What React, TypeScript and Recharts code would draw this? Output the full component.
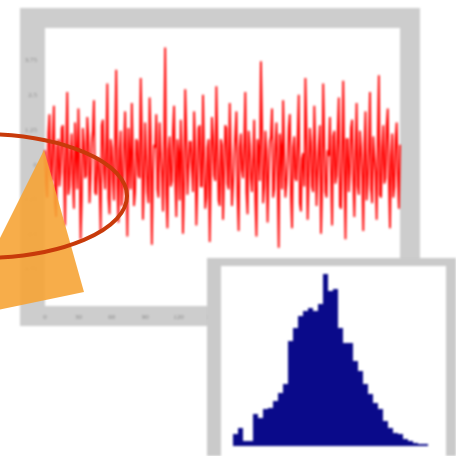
import React from 'react';
import { LineChart, Line, XAxis, YAxis, CartesianGrid, BarChart, Bar } from 'recharts';

const noiseA = [
  0.5, -1.2, 1.8, -0.6, 2.1, -1.9, 0.9, -0.3, 1.4, -2.2,
  2.6, -0.8, 1.1, -1.6, 0.4, 2.0, -2.7, 1.3, -0.5, 1.7,
  -1.4, 0.8, 2.3, -1.1, 0.2, -2.4, 1.6, -0.9, 2.9, -1.8,
  0.6, -1.3, 3.4, -2.1, 1.2, -0.7, 1.9, -2.6, 0.3, 2.2,
  -1.5, 0.9, -0.4, 3.1, -2.0, 1.5, -1.0, 2.4, -2.9, 0.7,
  1.8, -1.2, 0.5, -1.7, 4.2, -2.3, 1.0, -0.6, 2.1, -1.9,
  0.4, 1.6, -2.5, 2.7, -1.1, 0.8, -0.2, 1.9, -2.2, 1.3,
  -0.8, 2.5, -1.6, 0.6, -2.8, 1.7, -0.4, 2.8, -1.3, 0.9,
  -2.0, 1.4, -0.7, 2.2, -1.5, 0.3, 1.9, -2.4, 1.1, -0.5,
  2.6, -1.8, 0.7, -1.0, 1.6, -2.6, 0.5, 3.7, -1.4, 1.2,
  -2.1, 0.8, 2.0, -0.9, 1.5, -3.0, 0.6, 2.3, -1.2, 0.1,
  1.8, -2.3, 1.0, -0.6, 2.5, -1.7, 0.4, 3.1, -2.0, 1.3,
  -0.8, 2.1, -1.5, 0.7, -2.5, 2.9, -1.0, 0.5, 1.7, -2.2,
  1.2, -0.4, 2.4, -1.6, 3.0, -2.7, 0.9, -0.3, 1.6, -1.9,
  2.2, -1.1, 0.6, -2.4, 1.9, -0.7, 2.6, -1.4, 0.3, -2.0,
  3.2, -1.2, 1.4, -0.5, 2.0, -2.3, 1.1, -0.8, 1.5, -1.6,
];
const noiseB = [
  -0.7, 1.1, -0.3, 0.9, -1.4, 0.6, -0.8, 1.3, -0.2, 0.7,
  -1.1, 0.4, -0.6, 1.5, -0.9, 0.3, -1.3, 0.8, -0.4, 1.0,
  -0.5, 1.2, -1.0, 0.2, -0.7, 1.4, -0.3, 0.6, -1.2, 0.9,
  -0.6, 1.1, -0.8, 0.5, -1.5, 0.7, -0.2, 1.3, -0.9, 0.4,
  -1.0, 0.8, -0.5, 1.2, -0.7, 0.3, -1.4, 1.0, -0.4, 0.6,
  -0.9, 1.5, -0.3, 0.7, -1.1, 0.5, -0.8, 1.2, -0.6, 0.9,
  -1.3, 0.4, -0.7, 1.1, -0.2, 0.8, -1.0, 0.6, -0.5, 1.4,
  -0.8, 0.3, -1.2, 0.9, -0.4, 1.0, -0.6, 0.5, -1.5, 0.7,
  -0.3, 1.3, -0.9, 0.4, -0.7, 1.1, -1.1, 0.6, -0.2, 0.8,
  -1.0, 1.2, -0.5, 0.3, -1.3, 0.9, -0.6, 1.5, -0.8, 0.5,
  -0.4, 1.0, -1.2, 0.7, -0.3, 1.1, -0.9, 0.4, -0.7, 1.3,
  -1.1, 0.6, -0.5, 0.9, -1.4, 0.2, -0.8, 1.2, -0.6, 0.8,
  -1.0, 0.5, -0.3, 1.4, -0.9, 0.7, -1.2, 0.3, -0.4, 1.0,
  -0.7, 1.1, -1.5, 0.6, -0.2, 0.9, -1.0, 1.3, -0.6, 0.4,
  -0.8, 1.2, -0.4, 0.7, -1.3, 0.5, -0.9, 1.0, -0.3, 0.8,
  -1.1, 0.6, -0.7, 1.4, -0.5, 0.3, -1.2, 0.9, -0.4, 0.7,
];
const noiseData = noiseA.flatMap((a, k) => [
  { i: 2 * k, v: a },
  { i: 2 * k + 1, v: noiseB[k] },
]);

const xTicks = [0, 30, 60, 90, 120, 150, 180, 210, 240, 270, 300];
const yTicks = [-3.75, -2.5, -1.25, 0, 1.25, 2.5, 3.75];

const histCounts = [
  12, 18, 5, 5, 32, 28, 37, 38, 45, 53,
  62, 105, 118, 130, 135, 138, 135, 142, 172, 155,
  157, 118, 103, 103, 85, 75, 62, 52, 43, 37,
  25, 18, 13, 12, 7, 5, 3, 2, 2,
];
const histData = histCounts.map((c, bin) => ({ bin, c }));

export default function App() {
  return (
    <div style={{ position: 'absolute', left: 0, top: 0, width: 456, height: 456, overflow: 'hidden', background: '#ffffff' }}>
      <div style={{ position: 'absolute', left: 20, top: 8, width: 400, height: 318, background: '#cdcdcd', filter: 'blur(1px)' }}>
        <LineChart width={400} height={318} data={noiseData} margin={{ top: 0, right: 20, bottom: 0, left: 0 }}>
          <CartesianGrid xAxisId="b" fill="#ffffff" stroke="none" />
          <XAxis xAxisId="b" dataKey="i" type="number" domain={[0, 319]} ticks={xTicks} height={20}
            axisLine={false} tickLine={false} tick={{ fontSize: 7, fill: '#8a8a8a' }} />
          <XAxis xAxisId="t" orientation="top" dataKey="i" type="number" domain={[0, 319]} ticks={xTicks} height={20}
            axisLine={false} tick={false} tickLine={{ stroke: '#9a9a9a' }} tickSize={4} />
          <YAxis domain={[-5.1, 4.9]} ticks={yTicks} width={25} axisLine={false} tickLine={false}
            tick={{ fontSize: 7, fill: '#8a8a8a' }} />
          <Line xAxisId="b" type="linear" dataKey="v" stroke="#ff0000" strokeWidth={1.8} dot={false} isAnimationActive={false} />
        </LineChart>
      </div>

      <div style={{ position: 'absolute', left: 207, top: 258, width: 249, height: 198, background: '#cacaca', filter: 'blur(0.8px)' }}>
        <div style={{ position: 'absolute', left: 14, top: 8, width: 225, height: 190, background: '#ffffff' }} />
        <div style={{ position: 'absolute', left: 26, top: 8 }}>
          <BarChart width={195} height={180} data={histData} margin={{ top: 0, right: 0, bottom: 0, left: 0 }} barCategoryGap={0}>
            <XAxis dataKey="bin" hide />
            <YAxis domain={[0, 180]} hide />
            <Bar dataKey="c" fill="#0a0a8a" isAnimationActive={false} />
          </BarChart>
        </div>
      </div>

      <svg width={456} height={456} style={{ position: 'absolute', left: 0, top: 0, filter: 'blur(0.6px)' }}>
        <polygon points="44,150 84,292 -40,318" fill="#f6a436" opacity={0.9} />
        <ellipse cx={-20} cy={196} rx={147} ry={62} fill="none" stroke="#c83a0a" strokeWidth={4} />
      </svg>
    </div>
  );
}
